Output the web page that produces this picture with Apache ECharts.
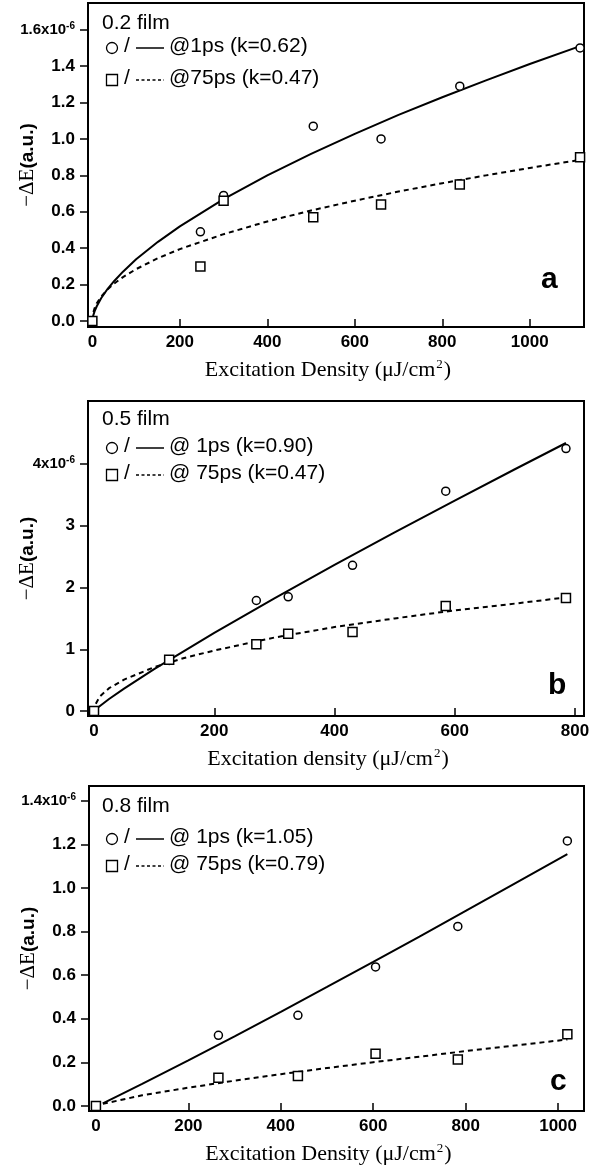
<!DOCTYPE html>
<html><head><meta charset="utf-8">
<script src="https://cdn.jsdelivr.net/npm/echarts@6/dist/echarts.min.js"></script>
<style>html,body{margin:0;padding:0;background:#fff}#c{width:589px;height:1169px}</style>
</head><body><div id="c"></div>
<script>
// ---------- Panel a : 0.2 film ----------
const aPtX    = [0, 247, 300, 505, 660, 840, 1115];
const a1psY   = [0, 0.49, 0.69, 1.07, 1.00, 1.29, 1.50];
const a75psY  = [0, 0.30, 0.66, 0.57, 0.64, 0.75, 0.90];
const aFitX   = [0, 2, 5, 10, 20, 35, 50, 70, 100, 150, 200, 300, 400, 500, 600, 700, 800, 900, 1000, 1115];
const aFit1Y  = [0, 0.030, 0.053, 0.081, 0.125, 0.177, 0.220, 0.271, 0.339, 0.435, 0.520, 0.669, 0.800, 0.918, 1.028, 1.132, 1.229, 1.322, 1.412, 1.510];
const aFit75Y = [0, 0.045, 0.070, 0.097, 0.134, 0.174, 0.206, 0.241, 0.285, 0.345, 0.395, 0.477, 0.547, 0.607, 0.661, 0.711, 0.757, 0.800, 0.841, 0.885];
const aYTicks = [0, 0.2, 0.4, 0.6, 0.8, 1.0, 1.2, 1.4, 1.6];
const aXTicks = [0, 200, 400, 600, 800, 1000];

// ---------- Panel b : 0.5 film ----------
const bPtX    = [0, 125, 270, 323, 430, 585, 785];
const b1psY   = [0, 0.82, 1.79, 1.85, 2.36, 3.56, 4.25];
const b75psY  = [0, 0.83, 1.08, 1.25, 1.28, 1.70, 1.83];
const bFit1X  = [0, 5, 25, 50, 100, 200, 300, 400, 500, 600, 700, 785];
const bFit1Y  = [0, 0.046, 0.195, 0.364, 0.679, 1.267, 1.826, 2.366, 2.892, 3.407, 3.915, 4.34];
const bFit75X = [3, 10, 25, 50, 100, 150, 200, 300, 400, 500, 600, 700, 785];
const bFit75Y = [0.12, 0.24, 0.37, 0.51, 0.71, 0.86, 0.98, 1.19, 1.36, 1.50, 1.63, 1.74, 1.84];
const bYTicks = [0, 1, 2, 3, 4];
const bXTicks = [0, 200, 400, 600, 800];

// ---------- Panel c : 0.8 film ----------
const cPtX    = [0, 265, 437, 605, 783, 1020];
const c1psY   = [0, 0.324, 0.416, 0.638, 0.824, 1.216];
const c75psY  = [0, 0.130, 0.138, 0.240, 0.213, 0.329];
const cFitX   = [15, 50, 100, 200, 300, 400, 500, 600, 700, 800, 900, 1020];
const cFit1Y  = [0.012, 0.049, 0.101, 0.209, 0.319, 0.432, 0.546, 0.661, 0.777, 0.895, 1.013, 1.155];
const cFit75Y = [0.010, 0.026, 0.049, 0.084, 0.116, 0.146, 0.174, 0.201, 0.226, 0.252, 0.276, 0.305];
const cYTicks = [0, 0.2, 0.4, 0.6, 0.8, 1.0, 1.2, 1.4];
const cXTicks = [0, 200, 400, 600, 800, 1000];

const zip = (xs, ys) => xs.map((x, i) => [x, ys[i]]);
const SANS = 'Liberation Sans, Arial, sans-serif';
const SERIF = 'Liberation Serif, Times New Roman, serif';

function xAxis(i, min, max, ticks, word) {
  return {
    type: 'value', gridIndex: i, min: min, max: max,
    axisLine: {show: true, onZero: false, lineStyle: {color: '#000', width: 2}},
    axisTick: {show: true, inside: true, length: 8, customValues: ticks, lineStyle: {color: '#000', width: 1.5}},
    axisLabel: {customValues: ticks, color: '#000', fontFamily: SANS, fontWeight: 'bold', fontSize: 17, margin: 7,
      formatter: v => String(v)},
    splitLine: {show: false},
    name: '{t|Excitation ' + word + ' (\u03BCJ/cm}{s|2}{t|)}',
    nameLocation: 'middle', nameGap: 31, nameMoveOverlap: false,
    nameTextStyle: {color: '#000', padding: [0, 16, 0, 0],
      rich: {t: {fontFamily: SERIF, fontSize: 22, color: '#000', lineHeight: 24},
             s: {fontFamily: SERIF, fontSize: 13, color: '#000', verticalAlign: 'top', lineHeight: 24, padding: [0, 1, 12, 1]}}}
  };
}
function yAxis(i, min, max, ticks, topVal, fmtDigits) {
  return {
    type: 'value', gridIndex: i, min: min, max: max,
    axisLine: {show: true, onZero: false, lineStyle: {color: '#000', width: 2}},
    axisTick: {show: true, inside: false, length: 8, customValues: ticks, lineStyle: {color: '#000', width: 1.5}},
    axisLabel: {customValues: ticks, color: '#000', fontFamily: SANS, fontWeight: 'bold', fontSize: 17, margin: 13,
      formatter: function (v) {
        const s = v.toFixed(fmtDigits);
        if (Math.abs(v - topVal) < 1e-9) return '{m|' + s + 'x10}{e|-6}';
        return s;
      },
      rich: {m: {fontFamily: SANS, fontWeight: 'bold', fontSize: 15, color: '#000', lineHeight: 18},
             e: {fontFamily: SANS, fontWeight: 'bold', fontSize: 10, color: '#000', verticalAlign: 'top', lineHeight: 18, padding: [0, 0, 8, 0]}}},
    splitLine: {show: false},
    name: '{d|\u2212\u0394E}{p|(a.u.)}',
    nameLocation: 'middle', nameGap: 50, nameRotate: 90, nameMoveOverlap: false,
    nameTextStyle: {color: '#000',
      rich: {d: {fontFamily: SERIF, fontSize: 21, color: '#000'},
             p: {fontFamily: SANS, fontWeight: 'bold', fontSize: 19, color: '#000'}}}
  };
}
function pts(i, xs, ys, sym, size) {
  return {type: 'scatter', xAxisIndex: i, yAxisIndex: i, data: zip(xs, ys), symbol: sym, symbolSize: size,
    itemStyle: {color: '#fff', borderColor: '#000', borderWidth: 1.5, opacity: 1}, z: 5, silent: true};
}
function fit(i, xs, ys, dashed) {
  return {type: 'line', xAxisIndex: i, yAxisIndex: i, data: zip(xs, ys), showSymbol: false, symbol: 'none',
    lineStyle: {color: '#000', width: 2, type: dashed ? [5, 4] : 'solid'}, z: 3, silent: true};
}

const grids = [
  {left: 88, top: 3, width: 496, height: 324},
  {left: 88, top: 401, width: 496, height: 315},
  {left: 89, top: 786, width: 495, height: 325}
].map(g => Object.assign(g, {show: true, borderColor: '#000', borderWidth: 2, backgroundColor: 'transparent',
  containLabel: false, outerBoundsMode: 'none'}));

function legend(top0, row1, row2, film, t1, t2) {
  const txt = (x, y, s) => ({type: 'text', left: x, top: y - 12, style: {text: s, font: '21px ' + SANS, fill: '#000'}});
  return [
    txt(102, top0, film),
    {type: 'circle', shape: {cx: 112, cy: row1, r: 5.5}, style: {fill: '#fff', stroke: '#000', lineWidth: 1.3}},
    txt(124, row1, '/'),
    {type: 'line', shape: {x1: 136, y1: row1, x2: 164, y2: row1}, style: {stroke: '#000', lineWidth: 1.5}},
    txt(169, row1, t1),
    {type: 'rect', shape: {x: 106.5, y: row2 - 5.5, width: 11, height: 11}, style: {fill: '#fff', stroke: '#000', lineWidth: 1.3}},
    txt(124, row2, '/'),
    {type: 'line', shape: {x1: 136, y1: row2, x2: 164, y2: row2}, style: {stroke: '#000', lineWidth: 1.3, lineDash: [3, 2.5]}},
    txt(169, row2, t2)
  ];
}
const letter = (x, y, s) => ({type: 'text', left: x, top: y - 17, style: {text: s, font: 'bold 30px ' + SANS, fill: '#000'}});

const option = {
  backgroundColor: '#fff',
  animation: false,
  grid: grids,
  xAxis: [
    xAxis(0, -10, 1124, aXTicks, 'Density'),
    xAxis(1, -10, 815, bXTicks, 'density'),
    xAxis(2, -15, 1056, cXTicks, 'Density')
  ],
  yAxis: [
    yAxis(0, -0.033, 1.747, aYTicks, 1.6, 1),
    yAxis(1, -0.08, 5.02, bYTicks, 4, 0),
    yAxis(2, -0.023, 1.468, cYTicks, 1.4, 1)
  ],
  series: [
    fit(0, aFitX, aFit1Y, false), fit(0, aFitX, aFit75Y, true),
    pts(0, aPtX, a1psY, 'circle', 8), pts(0, aPtX, a75psY, 'rect', 9),
    fit(1, bFit1X, bFit1Y, false), fit(1, bFit75X, bFit75Y, true),
    pts(1, bPtX, b1psY, 'circle', 8), pts(1, bPtX, b75psY, 'rect', 9),
    fit(2, cFitX, cFit1Y, false), fit(2, cFitX, cFit75Y, true),
    pts(2, cPtX, c1psY, 'circle', 8), pts(2, cPtX, c75psY, 'rect', 9)
  ],
  graphic: [].concat(
    legend(25, 48, 80, '0.2 film', '@1ps (k=0.62)', '@75ps (k=0.47)'),
    legend(421, 448, 475, '0.5 film', '@ 1ps (k=0.90)', '@ 75ps (k=0.47)'),
    legend(808, 839, 866, '0.8 film', '@ 1ps (k=1.05)', '@ 75ps (k=0.79)'),
    [letter(541, 282, 'a'), letter(548, 688, 'b'), letter(550, 1084, 'c')]
  )
};
const chart = echarts.init(document.getElementById('c'), null, {renderer: 'canvas'});
chart.setOption(option);
</script></body></html>
